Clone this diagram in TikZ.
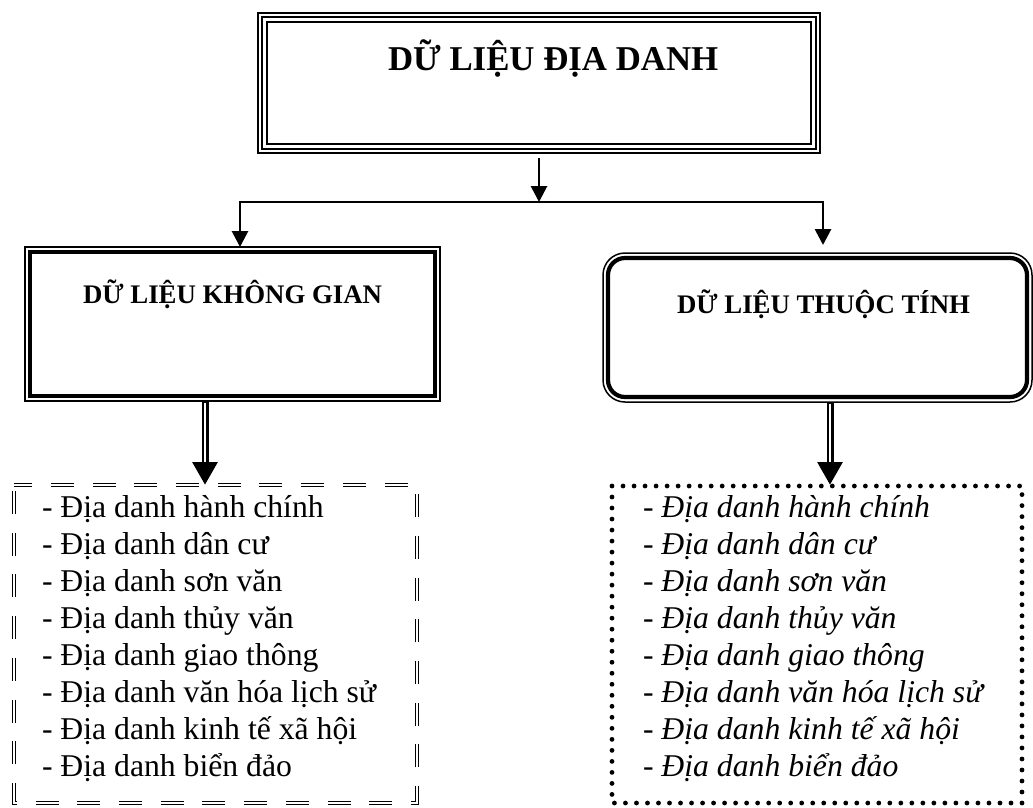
\documentclass[tikz,border=0pt]{standalone}
\usepackage{fontspec}
\setmainfont{Liberation Serif}
\usetikzlibrary{arrows.meta}
\begin{document}
\begin{tikzpicture}[x=1pt,y=-1pt,
  every node/.style={inner sep=0pt, outer sep=0pt},
  thinrule/.style={line width=1.5pt},
  thickrule/.style={line width=4.2pt},
  trirule/.style={line width=2pt},
  flowline/.style={line width=2.8pt},
  smallarrow/.style={flowline, -{Triangle[length=16pt,width=16pt]}},
  bigarrow/.style={line width=7pt, -{Triangle[length=23pt,width=24pt]}},
  bigarrowcore/.style={line width=2.4pt, white, shorten >=23pt, shorten <=1.5pt},
  headbig/.style={font=\fontsize{34.8}{40}\selectfont\bfseries},
  headmid/.style={font=\fontsize{26.8}{32}\selectfont\bfseries},
  itemup/.style={font=\fontsize{31.7}{37}\selectfont},
  itemit/.style={font=\fontsize{31.7}{37}\selectfont\itshape},
  dashframe/.style={line width=1.4pt, double=white, double distance=1.8pt,
    dash pattern=on 23pt off 18.7pt, dash phase=35.7pt},
  dotframe/.style={line width=4.8pt, line cap=round, dash pattern=on 0pt off 11.015pt},
]
\useasboundingbox (0,0) rectangle (1033,807);

% root box with a triple rule
\node[draw, trirule, minimum width=562pt, minimum height=140pt, anchor=north west] (root) at (258,13) {};
\draw[trirule] ([shift={(4.3,4.3)}]root.north west) rectangle ([shift={(-4.3,-4.3)}]root.south east);
\draw[trirule] ([shift={(8.6,8.6)}]root.north west) rectangle ([shift={(-8.6,-8.6)}]root.south east);
\node[headbig, anchor=base west] (roottext) at (388,70) {DỮ LIỆU ĐỊA DANH};

% spatial data box: thin outer rule, thick inner rule
\node[draw, thinrule, minimum width=415pt, minimum height=154pt, anchor=north west] (space) at (25,247) {};
\draw[thickrule] ([shift={(5,5)}]space.north west) rectangle ([shift={(-5,-5)}]space.south east);
\node[headmid, anchor=base west] (spacetext) at (83,303) {DỮ LIỆU KHÔNG GIAN};

% attribute data box: rounded, thin outer rule, thick inner rule
\node[draw, thinrule, rounded corners=22pt, minimum width=429pt, minimum height=149pt, anchor=north west] (attr) at (603,253) {};
\draw[thickrule, rounded corners=17pt] ([shift={(5,5)}]attr.north west) rectangle ([shift={(-5,-5)}]attr.south east);
\node[headmid, anchor=base west] (attrtext) at (677,313) {DỮ LIỆU THUỘC TÍNH};

% list frames
\node[minimum width=403pt, minimum height=318pt, anchor=north west] (spacelist) at (14,485) {};
\draw[dashframe] (spacelist.north west) rectangle (spacelist.south east);
\node[minimum width=410pt, minimum height=317pt, anchor=north west] (attrlist) at (612,486) {};
\draw[dotframe] (attrlist.north west) rectangle (attrlist.south east);

% list items
\foreach \t [count=\i from 0] in {Địa danh hành chính, Địa danh dân cư, Địa danh sơn văn,
    Địa danh thủy văn, Địa danh giao thông, Địa danh văn hóa lịch sử,
    Địa danh kinh tế xã hội, Địa danh biển đảo} {
  \node[itemup, anchor=base west] (spaceitem\i) at (42,517+37*\i) {- \t};
  \node[itemit, anchor=base west] (attritem\i) at (643,517+37*\i) {- \t};
}

% connectors
\coordinate (split) at (539,202);
\coordinate (splitL) at (240,202);
\coordinate (splitR) at (823,202);
\draw[smallarrow, shorten <=5pt] (root.south) -- (split);
\draw[smallarrow] (split) -| (splitL |- space.north);
\draw[smallarrow, shorten >=8pt] (split) -| (splitR |- attr.north);

\coordinate (spacedrop) at (205,485);
\draw[bigarrow] (space.south -| spacedrop) -- (spacedrop);
\draw[bigarrowcore] (space.south -| spacedrop) -- (spacedrop);
\coordinate (attrdrop) at (830,485);
\draw[bigarrow] (attr.south -| attrdrop) -- (attrdrop);
\draw[bigarrowcore] (attr.south -| attrdrop) -- (attrdrop);
\end{tikzpicture}
\end{document}
